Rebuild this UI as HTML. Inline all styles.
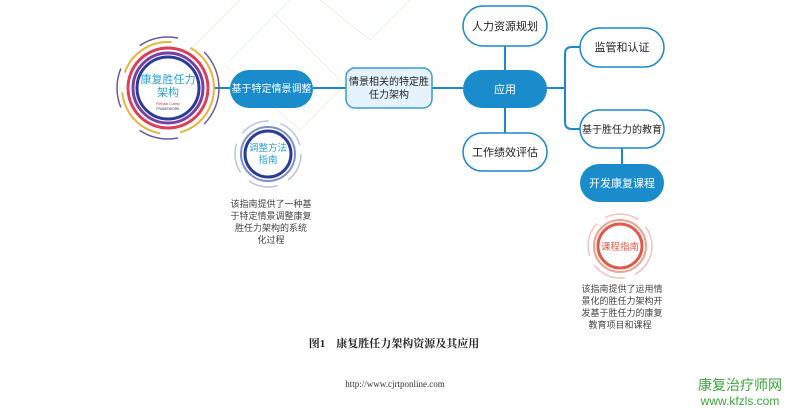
<!DOCTYPE html>
<html><head><meta charset="utf-8"><style>
body{margin:0;background:#fff;}
svg text{font-family:"Liberation Sans","Noto Sans CJK SC",sans-serif;}
</style></head><body>
<svg width="793" height="410" viewBox="0 0 793 410" xmlns="http://www.w3.org/2000/svg">
<rect width="793" height="410" fill="#fff"/>
<g fill="none" stroke="#e2f6e2" stroke-width="1">
<path d="M190 50 L240 0 M230 60 L290 0 M225 65 L300 130 L345 85 L275 15"/>
<path d="M320 0 L370 40 L410 0"/>
</g>
<g stroke="#1a88c9" stroke-width="2" fill="none">
<line x1="214" y1="88" x2="230" y2="88"/>
<line x1="313" y1="88" x2="346" y2="88"/>
<line x1="432" y1="88" x2="463" y2="88"/>
<line x1="505" y1="46" x2="505" y2="70"/>
<line x1="505" y1="108" x2="505" y2="133"/>
<path d="M547 88 H565 M580 47 H572 Q565 47 565 54 V122 Q565 129 572 129 H580"/>
<line x1="622" y1="148" x2="622" y2="164"/>
</g>
<g fill="none">
<circle cx="168" cy="88" r="46" stroke="#e9b33a" stroke-width="2" stroke-dasharray="60 20"/>
<circle cx="168" cy="88" r="40" stroke="#d9405a" stroke-width="3"/>
<circle cx="168" cy="88" r="35" stroke="#7a3fa0" stroke-width="3"/>
<circle cx="168" cy="88" r="31" stroke="#2a3c9a" stroke-width="3"/>
<circle cx="168" cy="88" r="51" stroke="#6a5aa0" stroke-width="1.5" stroke-dasharray="40 30"/>
</g>
<text x="168" y="83" font-size="11" fill="#2aa0d8" text-anchor="middle">康复胜任力</text>
<text x="168" y="96" font-size="11" fill="#2aa0d8" text-anchor="middle">架构</text>
<text x="168" y="105" font-size="4" fill="#c33" text-anchor="middle">Rehab Comp</text>
<text x="168" y="110" font-size="3.5" fill="#335" text-anchor="middle">FRAMEWORK</text>
<rect x="230" y="70" width="83" height="38" rx="19" fill="#1a8ccc"/>
<text x="271.5" y="92" font-size="10" fill="#fff" text-anchor="middle">基于特定情景调整</text>
<rect x="346" y="68" width="86" height="40" rx="9" fill="#e4f2fb" stroke="#3a9bd4" stroke-width="1.5"/>
<text x="389" y="85" font-size="10" fill="#222" text-anchor="middle">情景相关的特定胜</text>
<text x="389" y="98" font-size="10" fill="#222" text-anchor="middle">任力架构</text>
<rect x="463" y="70" width="84" height="38" rx="19" fill="#1a8ccc"/>
<text x="505" y="93" font-size="11" fill="#fff" text-anchor="middle">应用</text>
<g fill="#fff" stroke="#1a88c9" stroke-width="1.5">
<rect x="463" y="6" width="84" height="40" rx="20"/>
<rect x="463" y="133" width="84" height="38" rx="19"/>
<rect x="580" y="28" width="84" height="39" rx="19.5"/>
<rect x="580" y="110" width="84" height="38" rx="19"/>
</g>
<text x="505" y="30" font-size="11" fill="#222" text-anchor="middle">人力资源规划</text>
<text x="505" y="156" font-size="11" fill="#222" text-anchor="middle">工作绩效评估</text>
<text x="622" y="51" font-size="11" fill="#222" text-anchor="middle">监管和认证</text>
<text x="622" y="133" font-size="10" fill="#222" text-anchor="middle">基于胜任力的教育</text>
<rect x="580" y="164" width="84" height="38" rx="19" fill="#1a8ccc"/>
<text x="622" y="187" font-size="11" fill="#fff" text-anchor="middle">开发康复课程</text>
<g fill="none">
<circle cx="268" cy="154" r="33" stroke="#b8c4e0" stroke-width="1.5" stroke-dasharray="30 12"/>
<circle cx="268" cy="154" r="27" stroke="#7d8fc8" stroke-width="2"/>
<circle cx="268" cy="154" r="23" stroke="#2a3c9a" stroke-width="3"/>
</g>
<text x="268" y="151" font-size="9.5" fill="#2aa0d8" text-anchor="middle">调整方法</text>
<text x="268" y="163" font-size="9.5" fill="#2aa0d8" text-anchor="middle">指南</text>
<g font-size="9" fill="#444" text-anchor="middle" style="font-family:'Liberation Serif','Noto Serif CJK SC',serif">
<text x="271" y="207">该指南提供了一种基</text>
<text x="271" y="219">于特定情景调整康复</text>
<text x="271" y="231">胜任力架构的系统</text>
<text x="271" y="243">化过程</text>
</g>
<g fill="none">
<circle cx="620" cy="246" r="32" stroke="#f3c4bc" stroke-width="1.5" stroke-dasharray="35 10"/>
<circle cx="620" cy="246" r="26" stroke="#f0a090" stroke-width="2"/>
<circle cx="620" cy="246" r="22" stroke="#e05a4a" stroke-width="3"/>
</g>
<text x="620" y="250" font-size="9.5" fill="#e05a4a" text-anchor="middle">课程指南</text>
<g font-size="9" fill="#444" text-anchor="middle" style="font-family:'Liberation Serif','Noto Serif CJK SC',serif">
<text x="622" y="292">该指南提供了运用情</text>
<text x="622" y="304">景化的胜任力架构开</text>
<text x="622" y="316">发基于胜任力的康复</text>
<text x="620" y="328">教育项目和课程</text>
</g>
<text x="394" y="347" font-size="11" font-weight="bold" fill="#222" text-anchor="middle" style="font-family:'Liberation Serif','Noto Serif CJK SC',serif">图1　康复胜任力架构资源及其应用</text>
<text x="395" y="387" font-size="9" fill="#333" text-anchor="middle" style="font-family:'Liberation Serif',serif">http://www.cjrtponline.com</text>
<text x="740" y="390" font-size="14" fill="#3aa63a" text-anchor="middle">康复治疗师网</text>
<text x="740" y="405" font-size="12" fill="#3aa63a" text-anchor="middle">www.kfzls.com</text>
</svg>
</body></html>
